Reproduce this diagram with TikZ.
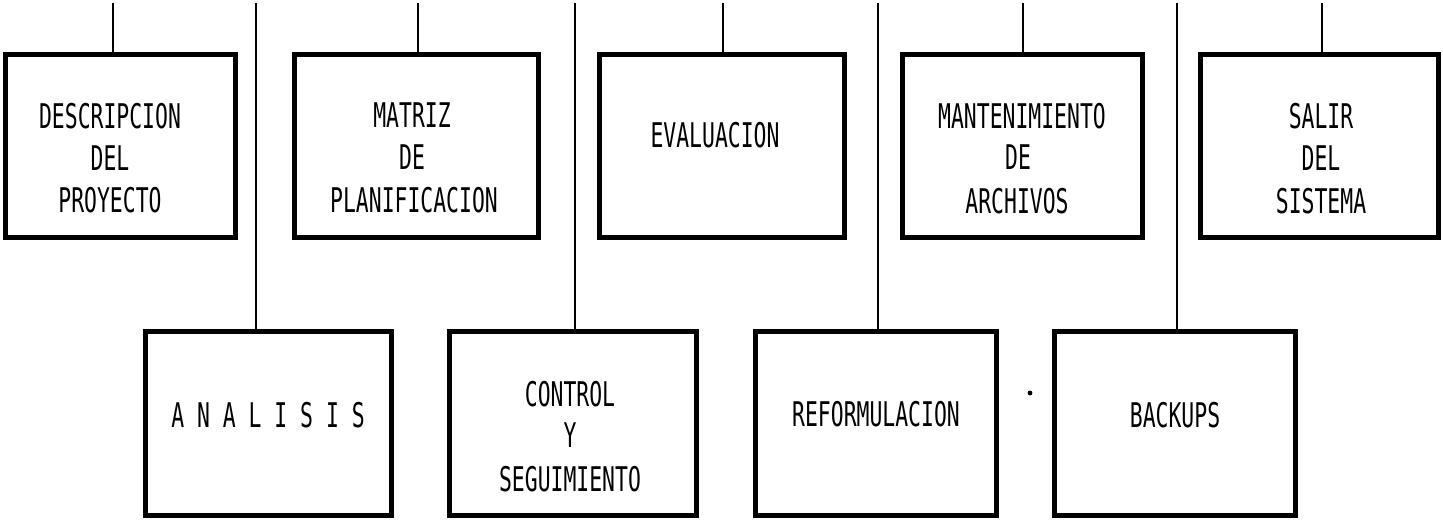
\documentclass[tikz,border=0pt]{standalone}
\usepackage{fontspec}
\newfontfamily\plotfont[FakeStretch=0.63]{DejaVu Sans Mono}
\begin{document}
\begin{tikzpicture}[x=0.5pt,y=-0.5pt,
  box/.style={draw, line width=2.4pt, inner sep=0pt, outer sep=0pt},
  toprow/.style={box, minimum height=91.5pt},
  botrow/.style={box, minimum height=92pt},
  conn/.style={line width=1pt},
  lbl/.style={anchor=base, inner sep=0pt, font=\plotfont\fontsize{17}{21}\selectfont}]
\useasboundingbox (0,0) rectangle (1443,519);
% top row boxes
\node[toprow, minimum width=115pt]   (b1) at (120.5,146) {};
\node[toprow, minimum width=122pt]   (b2) at (416.5,146) {};
\node[toprow, minimum width=122.5pt] (b3) at (722,146) {};
\node[toprow, minimum width=120pt]   (b4) at (1022.5,146) {};
\node[toprow, minimum width=119pt]   (b5) at (1319.5,146) {};
% bottom row boxes
\node[botrow, minimum width=123pt]   (a1) at (268.5,423.5) {};
\node[botrow, minimum width=123.5pt] (a2) at (573,423.5) {};
\node[botrow, minimum width=120.5pt] (a3) at (876,423.5) {};
\node[botrow, minimum width=120.5pt] (a4) at (1175,423.5) {};
% connector free ends
\coordinate (c1) at (113,3);
\coordinate (c2) at (418,3);
\coordinate (c3) at (723,3);
\coordinate (c4) at (1023,3);
\coordinate (c5) at (1322,3);
\coordinate (v1) at (256,3);
\coordinate (v2) at (575,3);
\coordinate (v3) at (878,3);
\coordinate (v4) at (1177,3);
\draw[conn] (c1) -- (c1 |- b1.north);
\draw[conn] (c2) -- (c2 |- b2.north);
\draw[conn] (c3) -- (c3 |- b3.north);
\draw[conn] (c4) -- (c4 |- b4.north);
\draw[conn] (c5) -- (c5 |- b5.north);
\draw[conn] (v1) -- (v1 |- a1.north);
\draw[conn] (v2) -- (v2 |- a2.north);
\draw[conn] (v3) -- (v3 |- a3.north);
\draw[conn] (v4) -- (v4 |- a4.north);
% labels top row
\node[lbl] (t1a) at (110,128) {DESCRIPCION};
\node[lbl] (t1b) at (110,170) {DEL};
\node[lbl] (t1c) at (110,212) {PROYECTO};
\node[lbl] (t2a) at (412,127) {MATRIZ};
\node[lbl] (t2b) at (412,169) {DE};
\node[lbl] (t2c) at (414,212) {PLANIFICACION};
\node[lbl] (t3a) at (715,148) {EVALUACION};
\node[lbl] (t4a) at (1022,128) {MANTENIMIENTO};
\node[lbl] (t4b) at (1018,169) {DE};
\node[lbl] (t4c) at (1017,213) {ARCHIVOS};
\node[lbl] (t5a) at (1321,128) {SALIR};
\node[lbl] (t5b) at (1321,170) {DEL};
\node[lbl] (t5c) at (1321,213) {SISTEMA};
% labels bottom row
\node[lbl] (s1a) at (268,427) {A N A L I S I S};
\node[lbl] (s2a) at (570,406) {CONTROL};
\node[lbl] (s2b) at (570,447) {Y};
\node[lbl] (s2c) at (570,491) {SEGUIMIENTO};
\node[lbl] (s3a) at (876,426) {REFORMULACION};
\node[lbl] (s4a) at (1175,427) {BACKUPS};
% stray dot
\fill (1030,393) circle (1.2pt);
\end{tikzpicture}
\end{document}
